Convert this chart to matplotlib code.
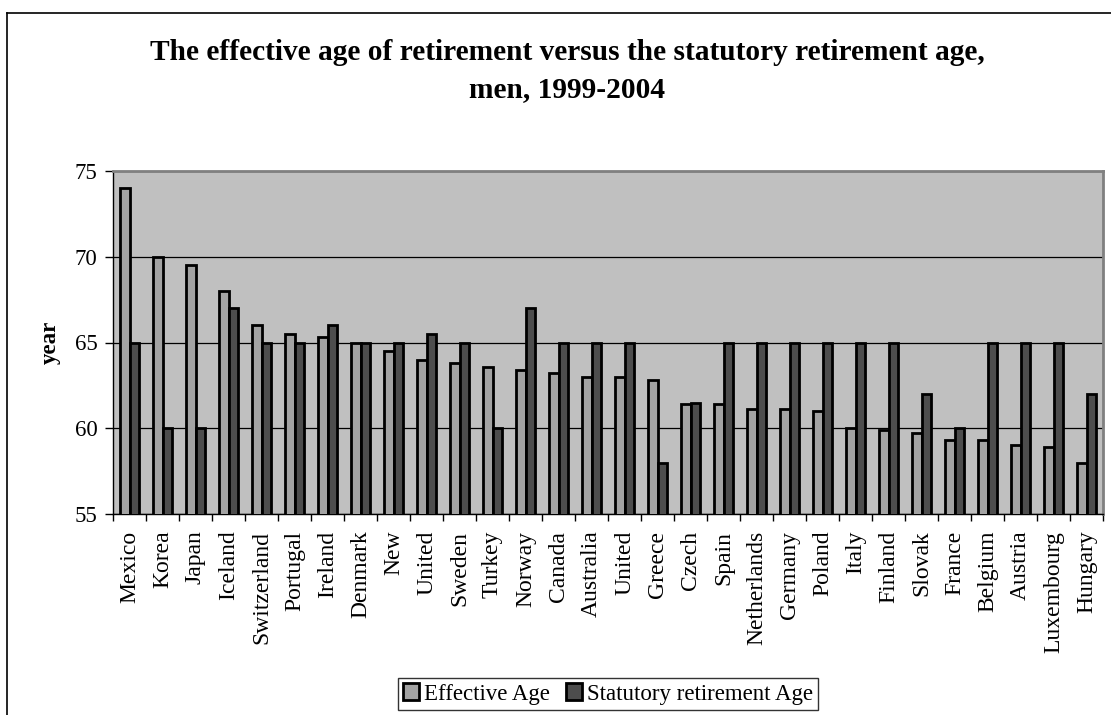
import matplotlib
matplotlib.use("Agg")
import matplotlib.pyplot as plt
import numpy as np
from matplotlib.lines import Line2D

countries = ["Mexico", "Korea", "Japan", "Iceland", "Switzerland", "Portugal", "Ireland",
             "Denmark", "New", "United", "Sweden", "Turkey", "Norway", "Canada", "Australia",
             "United", "Greece", "Czech", "Spain", "Netherlands", "Germany", "Poland", "Italy",
             "Finland", "Slovak", "France", "Belgium", "Austria", "Luxembourg", "Hungary"]
effective_age = [74.0, 70.0, 69.5, 68.0, 66.0, 65.5, 65.3, 65.0, 64.5, 64.0, 63.8, 63.6, 63.4,
                 63.2, 63.0, 63.0, 62.8, 61.4, 61.4, 61.1, 61.1, 61.0, 60.0, 59.9, 59.7, 59.3,
                 59.3, 59.0, 58.9, 58.0]
statutory_age = [65.0, 60.0, 60.0, 67.0, 65.0, 65.0, 66.0, 65.0, 65.0, 65.5, 65.0, 60.0, 67.0,
                 65.0, 65.0, 65.0, 58.0, 61.5, 65.0, 65.0, 65.0, 65.0, 65.0, 65.0, 62.0, 60.0,
                 65.0, 65.0, 65.0, 62.0]
y_ticks = [55, 60, 65, 70, 75]

plt.rcParams['font.family'] = ['Liberation Serif', 'DejaVu Serif']

W, H = 1111, 715
fig = plt.figure(figsize=(W / 100, H / 100), dpi=100)
fig.patch.set_facecolor('white')

ax = fig.add_axes([113 / W, 1 - 514 / H, (1103 - 113) / W, (514 - 171) / H])
ax.set_facecolor('#C0C0C0')

x = np.arange(len(countries))
bw = 0.29
ax.bar(x - bw / 2, effective_age, width=bw, color='#A3A3A3', edgecolor='black',
       linewidth=2.0, label='Effective Age', zorder=3)
ax.bar(x + bw / 2, statutory_age, width=bw, color='#4D4D4D', edgecolor='black',
       linewidth=2.0, label='Statutory retirement Age', zorder=3)

ax.set_ylim(55, 75)
ax.set_xlim(-0.5, len(countries) - 0.5)
ax.set_yticks(y_ticks)
ax.set_yticklabels([str(v) for v in y_ticks], fontsize=16.5)
ax.yaxis.grid(True, color='black', linewidth=0.9, zorder=1)
ax.set_axisbelow(True)

ax.set_xticks(x)
ax.set_xticklabels(countries, rotation=90, fontsize=17, va='top', ha='center')
ax.tick_params(axis='x', which='major', length=0, pad=12)
ax.set_xticks(np.arange(-0.5, len(countries) + 0.5, 1), minor=True)
ax.tick_params(axis='x', which='minor', length=5, width=1, direction='out', color='black')
ax.tick_params(axis='y', length=6, width=1, direction='out', pad=5)

for s in ['top', 'right']:
    ax.spines[s].set_color('#808080')
    ax.spines[s].set_linewidth(2)
for s in ['left', 'bottom']:
    ax.spines[s].set_color('black')
    ax.spines[s].set_linewidth(1)

ax.set_ylabel('year', fontsize=16.5, fontweight='bold', labelpad=10)

fig.text(567 / W, 1 - 71 / H, 'The effective age of retirement versus the statutory retirement age,\nmen, 1999-2004',
         ha='center', va='center', fontsize=21.2, fontweight='bold', linespacing=1.45)

leg = fig.legend(loc='center', bbox_to_anchor=(608 / W, 1 - 694 / H), ncol=2,
                 fontsize=16.5, frameon=True, fancybox=False, edgecolor='black',
                 handlelength=0.7, handleheight=0.7, handletextpad=0.2,
                 columnspacing=0.7, borderpad=0.25, borderaxespad=0)
leg.get_frame().set_linewidth(1)

# outer chart frame (left and top edges visible)
fig.add_artist(Line2D([7 / W, 7 / W], [0, 1 - 13 / H], transform=fig.transFigure,
                      color='black', linewidth=1.2))
fig.add_artist(Line2D([7 / W, 1], [1 - 13 / H, 1 - 13 / H], transform=fig.transFigure,
                      color='black', linewidth=1.2))

fig.savefig('out.png', dpi=100)
